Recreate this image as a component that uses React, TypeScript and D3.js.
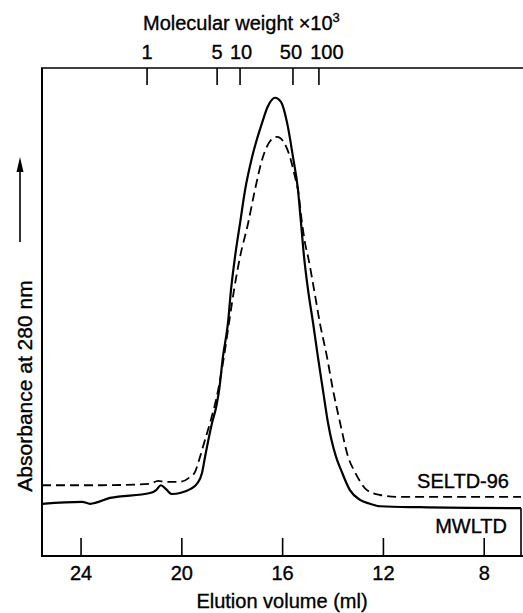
import React from 'react'
import { scaleLinear, line, curveMonotoneX } from 'd3'

// elution volume (ml) vs absorbance (arbitrary units, 0-100)
const mwltdVolume = [25.55, 23.96, 23.64, 22.85, 21.26, 21.02, 20.83, 20.63, 20.39, 20.07, 19.67, 19.4, 19.2, 19.08, 18.8, 18.64, 18.52, 18.37, 18.17, 18.05, 17.89, 17.69, 17.49, 17.21, 16.82, 16.58, 16.3, 16.06, 15.82, 15.59, 15.39, 15.27, 15.15, 14.99, 14.79, 14.6, 14.4, 14.2, 13.88, 13.68, 13.33, 12.93, 12.53, 12.13, 10.55, 6.54]
const mwltdAbs = [10.7, 11.1, 10.7, 11.9, 12.9, 13.5, 14.5, 13.7, 12.7, 12.9, 13.7, 14.8, 17.0, 20.3, 27.3, 30.5, 34.0, 40.8, 47.7, 54.5, 61.3, 68.2, 75.0, 81.8, 88.7, 92.2, 93.9, 93.0, 88.7, 81.8, 75.0, 68.2, 61.3, 54.5, 47.7, 40.8, 34.0, 27.3, 20.3, 17.6, 13.5, 11.5, 10.7, 10.2, 10.0, 9.8]

const seltdVolume = [25.55, 23.25, 21.26, 20.94, 20.67, 20.07, 19.67, 19.48, 19.28, 19.08, 18.88, 18.56, 18.33, 18.13, 17.93, 17.69, 17.37, 17.1, 16.78, 16.5, 16.22, 15.98, 15.71, 15.51, 15.39, 15.23, 15.11, 14.99, 14.75, 14.52, 14.24, 14.0, 13.72, 13.4, 13.13, 12.65, 12.13, 11.34, 6.54]
const seltdAbs = [14.5, 14.5, 14.8, 15.4, 15.2, 15.2, 16.2, 17.2, 20.3, 23.8, 27.3, 34.0, 40.8, 47.7, 54.5, 61.3, 68.2, 75.0, 81.8, 85.0, 85.9, 85.0, 81.8, 77.7, 75.0, 68.2, 64.1, 61.3, 54.5, 47.7, 40.8, 34.0, 27.3, 20.3, 17.2, 13.5, 12.5, 12.1, 12.1]

const volumeTicks = [24, 20, 16, 12, 8]
const mwTickLabels = ['1', '5', '10', '50', '100']
const mwTickVolume = [21.38, 18.6, 17.69, 15.59, 14.56]

const font = '"Liberation Sans", Arial, Helvetica, sans-serif'

export default function App() {
  const width = 523, height = 613
  const margin = { top: 68, right: 2, bottom: 57, left: 42 }
  const plotBottom = height - margin.bottom
  const plotRight = width - margin.right

  const x = scaleLinear().domain([25.55, 6.54]).range([margin.left, plotRight])
  const y = scaleLinear().domain([0, 100]).range([plotBottom, margin.top])

  const mwltd = mwltdVolume.map((v, i) => [v, mwltdAbs[i]] as [number, number])
  const seltd = seltdVolume.map((v, i) => [v, seltdAbs[i]] as [number, number])

  const path = line<[number, number]>()
    .x(d => x(d[0]))
    .y(d => y(d[1]))
    .curve(curveMonotoneX)

  const rightBase = y(mwltdAbs[mwltdAbs.length - 1])
  // labels of the crowded top ticks sit slightly apart
  const mwLabelShift = [0, 0, 1, -2, 8]

  return (
    <svg width={width} height={height} style={{ position: 'absolute', left: 0, top: 0, background: '#fff' }}
      fontFamily={font}>
      <g stroke="#000" strokeWidth={0.35}>
        {/* bottom axis */}
        {volumeTicks.map(t => (
          <text key={t} x={x(t)} y={580} textAnchor="middle" fontSize={20}>{t}</text>
        ))}
        <text x={282} y={608} textAnchor="middle" fontSize={20}>Elution volume (ml)</text>

        {/* top axis labels */}
        {mwTickVolume.map((v, i) => (
          <text key={mwTickLabels[i]} x={x(v) + mwLabelShift[i]} y={59} textAnchor="middle" fontSize={20}>{mwTickLabels[i]}</text>
        ))}
        <text x={143} y={30} fontSize={20}>
          Molecular weight ×10<tspan dy={-8} fontSize={13}>3</tspan>
        </text>

        <text transform="translate(32,386) rotate(-90)" textAnchor="middle" fontSize={21}>Absorbance at 280 nm</text>

        <text x={509} y={488} textAnchor="end" fontSize={20}>SELTD-96</text>
        <text x={507} y={533} textAnchor="end" fontSize={20}>MWLTD</text>
      </g>

      {/* frame */}
      <line x1={margin.left} x2={margin.left} y1={margin.top} y2={plotBottom} stroke="#000" strokeWidth={2} />
      <line x1={margin.left - 1} x2={width} y1={margin.top} y2={margin.top} stroke="#000" strokeWidth={1.6} />
      <line x1={margin.left - 1} x2={width} y1={plotBottom} y2={plotBottom} stroke="#000" strokeWidth={2} />
      <line x1={plotRight} x2={plotRight} y1={rightBase} y2={plotBottom} stroke="#000" strokeWidth={1.6} />

      {volumeTicks.map(t => (
        <line key={t} x1={x(t)} x2={x(t)} y1={plotBottom - 18} y2={plotBottom} stroke="#000" strokeWidth={1.6} />
      ))}
      {mwTickVolume.map((v, i) => (
        <line key={mwTickLabels[i]} x1={x(v)} x2={x(v)} y1={margin.top} y2={margin.top + 17} stroke="#000" strokeWidth={1.6} />
      ))}

      {/* y arrow */}
      <line x1={20} x2={20} y1={242} y2={168} stroke="#000" strokeWidth={1.6} />
      <polygon points="20,157 16.5,172 23.5,172" fill="#000" />

      {/* curves */}
      <path d={path(seltd) ?? ''} fill="none" stroke="#000" strokeWidth={1.8} strokeDasharray="9,5" />
      <path d={path(mwltd) ?? ''} fill="none" stroke="#000" strokeWidth={2.2} />
    </svg>
  )
}
